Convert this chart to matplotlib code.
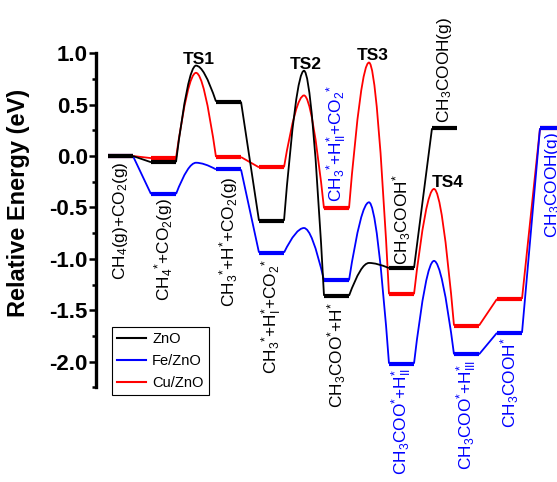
import matplotlib
matplotlib.use('Agg')
import matplotlib.pyplot as plt
from matplotlib.path import Path
from matplotlib.patches import PathPatch
from matplotlib.lines import Line2D
from matplotlib.ticker import MultipleLocator, FormatStrFormatter

plt.rcParams['font.family'] = ['Liberation Sans', 'DejaVu Sans']
plt.rcParams['mathtext.fontset'] = 'custom'
plt.rcParams['mathtext.rm'] = 'Liberation Sans'
plt.rcParams['mathtext.default'] = 'regular'
plt.rcParams['axes.unicode_minus'] = False

# energies of the intermediates (eV), left to right
zno_levels = [0.00, -0.06, 0.53, -0.63, -1.36, -1.09, 0.27]
fe_levels = [0.00, -0.37, -0.13, -0.94, -1.21, -2.02, -1.93, -1.72, 0.27]
cu_levels = [0.00, -0.02, -0.01, -0.11, -0.51, -1.345, -1.65, -1.39, 0.27]

# transition states, key = index of the intermediate on their left
zno_ts = {1: 0.88, 3: 0.83, 4: -1.04}
fe_ts = {1: -0.065, 3: -0.70, 4: -0.45, 5: -1.02}
cu_ts = {1: 0.81, 3: 0.59, 4: 0.91, 5: -0.32}

names = ['ZnO', 'Fe/ZnO', 'Cu/ZnO']
ts_names = ['TS1', 'TS2', 'TS3', 'TS4']

state_labels = [
    'CH$_4$(g)+CO$_2$(g)',
    'CH$_4{}^{*}$+CO$_2$(g)',
    'CH$_3{}^{*}$+H$^{*}$+CO$_2$(g)',
    'CH$_3{}^{*}$+H$_I^{*}$+CO$_2{}^{*}$',
    'CH$_3$COO$^{*}$+H$^{*}$',
    'CH$_3$COO$^{*}$+H$_{II}^{*}$',
    'CH$_3$COO$^{*}$+H$_{III}^{*}$',
    'CH$_3$COOH$^{*}$',
    'CH$_3$COOH$^{*}$',
    'CH$_3$COOH(g)',
    'CH$_3{}^{*}$+H$_{II}^{*}$+CO$_2{}^{*}$',
    'CH$_3$COOH(g)',
]

BLUE = '#0000FF'
RED = '#FF0000'
colors = ['black', BLUE, RED]

W, SHORT, LONG = 1.0, 0.72, 1.6


def starts(levels, ts):
    xs = [0.0]
    for i in range(len(levels) - 1):
        xs.append(xs[-1] + W + (LONG if i in ts else SHORT))
    return xs


fig = plt.figure(figsize=(5.57, 4.82), dpi=100)
ax = fig.add_axes([96 / 557, 0.1965, 461 / 557, 0.693])

data = [(zno_levels, zno_ts), (fe_levels, fe_ts), (cu_levels, cu_ts)]
pos = {}
k = 0.6
for idx in [2, 1, 0]:
    levels, ts = data[idx]
    xs = starts(levels, ts)
    pos[idx] = xs
    c = colors[idx]
    z = 3 + (2 - idx)
    verts, codes = [], []
    for i in range(len(levels) - 1):
        xa, ya = xs[i] + W, levels[i]
        xb, yb = xs[i + 1], levels[i + 1]
        verts.append((xa, ya))
        codes.append(Path.MOVETO)
        if i in ts:
            yp = ts[i]
            xm = (xa + xb) / 2
            verts += [(xa + k * (xm - xa), yp), (xm, yp),
                      (xb - k * (xb - xm), yp), (xb, yb)]
            codes += [Path.CURVE3] * 4
        else:
            verts.append((xb, yb))
            codes.append(Path.LINETO)
    ax.add_patch(PathPatch(Path(verts, codes), fill=False, edgecolor=c,
                           lw=1.3, zorder=z))
    for x0, y in zip(xs, levels):
        ax.plot([x0, x0 + W], [y, y], color=c, lw=3, solid_capstyle='butt',
                zorder=z + 0.5)

# TS labels: (series, left index, dx px, dy px)
ts_place = [(0, 1, 3, 2), (0, 3, 2, 2), (2, 4, 4, 3), (2, 5, 14, 2)]
for name, (s, i, dx, dy) in zip(ts_names, ts_place):
    levels, ts = data[s]
    xm = (pos[s][i] + W + pos[s][i + 1]) / 2
    ax.annotate(name, (xm, ts[i]), xytext=(dx * 0.72, dy * 0.72),
                textcoords='offset points', ha='center', va='baseline',
                fontsize=12.5, fontweight='bold', zorder=10)

# state labels: (series, level index, side, offset px, colour)
label_place = [
    (0, 0, -1, 5, 'black'),
    (1, 1, -1, 4, 'black'),
    (1, 2, -1, 7, 'black'),
    (1, 3, -1, 6, 'black'),
    (0, 4, -1, 6, 'black'),
    (1, 5, -1, 4, BLUE),
    (1, 6, -1, 5, BLUE),
    (1, 7, -1, 5, BLUE),
    (0, 5, 1, 3, 'black'),
    (0, 6, 1, 5, 'black'),
    (2, 4, 1, 6, BLUE),
    (1, 8, -1, 4, BLUE),
]
for text, (s, i, side, off, c) in zip(state_labels, label_place):
    x = pos[s][i] + W / 2
    y = data[s][0][i]
    ax.annotate(text, (x, y), xytext=(0, side * off * 0.72),
                textcoords='offset points', rotation=90, ha='center',
                va='bottom' if side > 0 else 'top', fontsize=12.4,
                color=c, annotation_clip=False, zorder=10)

ax.set_xlim(-0.48, 17.96)
ax.set_ylim(-2.25, 1.0)
for sp in ['top', 'right', 'bottom']:
    ax.spines[sp].set_visible(False)
ax.spines['left'].set_linewidth(2.4)
ax.set_xticks([])
ax.yaxis.set_major_locator(MultipleLocator(0.5))
ax.yaxis.set_minor_locator(MultipleLocator(0.25))
ax.yaxis.set_major_formatter(FormatStrFormatter('%.1f'))
ax.tick_params(axis='y', which='major', direction='out', length=5, width=1.8,
               labelsize=16, pad=1)
ax.tick_params(axis='y', which='minor', direction='out', length=3, width=1.8)
for lab in ax.get_yticklabels():
    lab.set_fontweight('bold')
ax.set_ylabel('Relative Energy (eV)', fontsize=17, fontweight='bold')
ax.yaxis.set_label_coords(-0.143, 0.551)

handles = [Line2D([], [], color=c, lw=1.5) for c in colors]
leg = ax.legend(handles, names, loc='upper left', bbox_to_anchor=(0.035, 0.18),
                fontsize=10.5, frameon=True, fancybox=False, framealpha=1,
                edgecolor='black', handlelength=2.0, handletextpad=0.4,
                borderpad=0.35, labelspacing=0.55, borderaxespad=0)
leg.get_frame().set_linewidth(0.8)

fig.savefig('out.png', dpi=100)
